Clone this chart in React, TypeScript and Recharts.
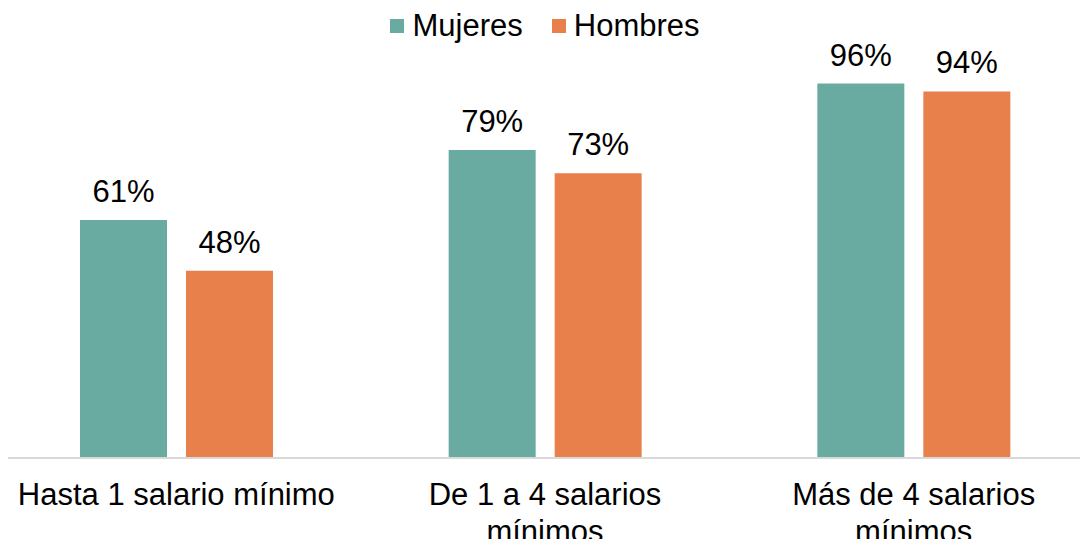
import { BarChart, Bar, XAxis, YAxis, Legend, LabelList } from "recharts";

const categories = ["Hasta 1 salario mínimo", "De 1 a 4 salarios mínimos", "Más de 4 salarios mínimos"];
const seriesNames = ["Mujeres", "Hombres"];
const mujeres = [61, 79, 96];
const hombres = [48, 73, 94];

const data = categories.map((name, i) => ({ name, Mujeres: mujeres[i], Hombres: hombres[i] }));

const FONT = "'Liberation Sans', Arial, sans-serif";
const TEAL = "#6aaba1";
const ORANGE = "#e8804b";
const colors: Record<string, string> = { Mujeres: TEAL, Hombres: ORANGE };

// greedy word wrap measured with a canvas
function wrap(text: string, maxWidth: number, font: string) {
  const ctx = document.createElement("canvas").getContext("2d")!;
  ctx.font = font;
  const lines: string[] = [];
  let cur = "";
  for (const w of text.split(" ")) {
    const next = cur ? cur + " " + w : w;
    if (cur && ctx.measureText(next).width > maxWidth) {
      lines.push(cur);
      cur = w;
    } else {
      cur = next;
    }
  }
  if (cur) lines.push(cur);
  return lines;
}

function CategoryTick(props: any) {
  const { x, y, payload } = props;
  const lines = wrap(payload.value, 340, `31px ${FONT}`);
  return (
    <text x={x} y={y + 39} textAnchor="middle" fontSize={31} fontFamily={FONT} fill="#000">
      {lines.map((l, i) => (
        <tspan key={i} x={x} dy={i ? 37 : 0}>
          {l}
        </tspan>
      ))}
    </text>
  );
}

function LegendBox() {
  return (
    <div style={{ display: "flex", justifyContent: "center", alignItems: "center", fontFamily: FONT, fontSize: 31 }}>
      {seriesNames.map((name, i) => (
        <div key={name} style={{ display: "flex", alignItems: "center", marginLeft: i ? 29 : 0 }}>
          <span style={{ width: 14, height: 14, background: colors[name], display: "inline-block", marginRight: 8 }} />
          <span style={{ color: "#000", lineHeight: "36px" }}>{name}</span>
        </div>
      ))}
    </div>
  );
}

export default function App() {
  return (
    <div style={{ position: "relative", margin: -8, width: 1088, height: 547, overflow: "hidden", background: "#fff" }}>
      <div style={{ marginLeft: -8 }}>
        <BarChart
          width={1106}
          height={547}
          data={data}
          margin={{ top: 32, right: 0, bottom: 0, left: 0 }}
          barSize={87}
          barGap={19}
        >
          <XAxis
            dataKey="name"
            height={89}
            axisLine={{ stroke: "#d9d9d9", strokeWidth: 2 }}
            tickLine={false}
            tick={<CategoryTick />}
            interval={0}
          />
          <YAxis hide domain={[0, 100]} />
          <Legend
            verticalAlign="top"
            height={36}
            content={<LegendBox />}
            wrapperStyle={{ top: 8, left: 0, width: 1106 }}
          />
          <Bar dataKey="Mujeres" fill={TEAL} isAnimationActive={false}>
            <LabelList
              dataKey="Mujeres"
              position="top"
              offset={18}
              formatter={(v: any) => `${v}%`}
              style={{ fontSize: 31, fontFamily: FONT, fill: "#000" }}
            />
          </Bar>
          <Bar dataKey="Hombres" fill={ORANGE} isAnimationActive={false}>
            <LabelList
              dataKey="Hombres"
              position="top"
              offset={18}
              formatter={(v: any) => `${v}%`}
              style={{ fontSize: 31, fontFamily: FONT, fill: "#000" }}
            />
          </Bar>
        </BarChart>
      </div>
    </div>
  );
}
